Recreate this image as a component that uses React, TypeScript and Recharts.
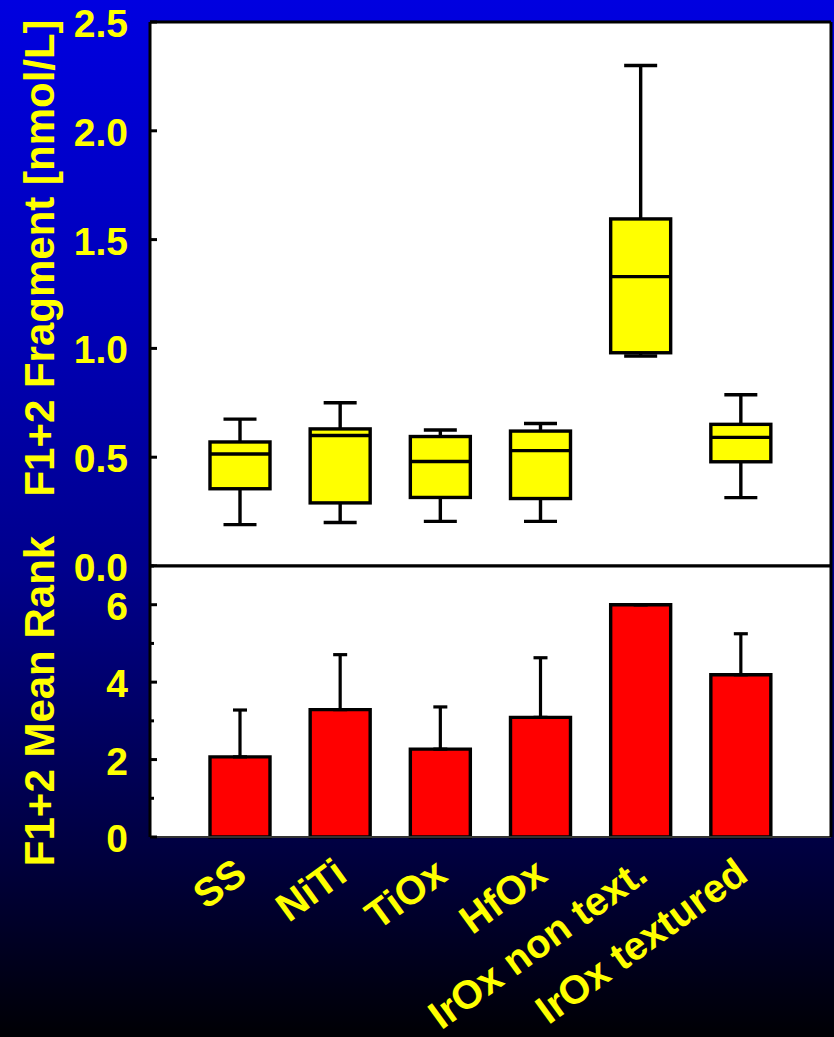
import {
  ComposedChart,
  BarChart,
  Bar,
  ErrorBar,
  XAxis,
  YAxis,
  CartesianGrid,
  ReferenceLine,
} from "recharts";

const categories = ["SS", "NiTi", "TiOx", "HfOx", "IrOx non text.", "IrOx textured"];

// box plot of F1+2 fragment [nmol/L]
const whiskerLow = [0.19, 0.2, 0.205, 0.205, 0.965, 0.314];
const q1 = [0.355, 0.29, 0.315, 0.31, 0.98, 0.479];
const median = [0.515, 0.6, 0.48, 0.53, 1.33, 0.591];
const q3 = [0.57, 0.63, 0.595, 0.62, 1.595, 0.651];
const whiskerHigh = [0.675, 0.75, 0.625, 0.655, 2.3, 0.787];

// mean rank with upper error
const meanRank = [2.07, 3.29, 2.27, 3.09, 6.0, 4.19];
const rankErrUp = [1.21, 1.42, 1.09, 1.54, 0, 1.06];

const fragTicks = [0, 0.5, 1, 1.5, 2, 2.5];
const rankTicks = [0, 1, 2, 3, 4, 5, 6, 7];
const rankLabels = [0, 2, 4, 6];

const YELLOW = "#ffff00";
const FONT = "'Liberation Sans', Arial, sans-serif";

const boxData = categories.map((name, i) => ({
  name,
  lo: whiskerLow[i],
  q1: q1[i],
  med: median[i],
  q3: q3[i],
  hi: whiskerHigh[i],
}));

const rankData = categories.map((name, i) => ({
  name,
  rank: meanRank[i],
  err: [0, rankErrUp[i]],
}));

function BoxShape(props: any) {
  const { x, y, width, height, payload } = props;
  const top = Math.min(y, y + height);
  const h = Math.abs(height);
  const unit = h / (payload.q3 - payload.q1);
  const cx = x + width / 2;
  const yOf = (v: number) => top + (payload.q3 - v) * unit;
  const cap = 16.5;
  return (
    <g stroke="#000" strokeWidth={3.4}>
      <line x1={cx} x2={cx} y1={yOf(payload.hi)} y2={top} />
      <line x1={cx - cap} x2={cx + cap} y1={yOf(payload.hi)} y2={yOf(payload.hi)} />
      <line x1={cx} x2={cx} y1={top + h} y2={yOf(payload.lo)} />
      <line x1={cx - cap} x2={cx + cap} y1={yOf(payload.lo)} y2={yOf(payload.lo)} />
      <rect x={x} y={top} width={width} height={h} fill={YELLOW} />
      <line x1={x} x2={x + width} y1={yOf(payload.med)} y2={yOf(payload.med)} />
    </g>
  );
}

function LeftTick(props: any) {
  const { x, y, payload, fmt, show, len } = props;
  const v = payload.value;
  return (
    <g>
      <line x1={x} x2={x + len(v)} y1={y} y2={y} stroke="#000" strokeWidth={3} />
      {show(v) && (
        <text x={x - 22} y={y + 15} textAnchor="end" fill={YELLOW} fontSize={39}
          fontWeight="bold" fontFamily={FONT}>
          {fmt(v)}
        </text>
      )}
    </g>
  );
}

function RightTick(props: any) {
  const { x, y } = props;
  return <line x1={x} x2={x - 7} y1={y} y2={y} stroke="#000" strokeWidth={3} />;
}

function CatTick(props: any) {
  const { x, y, payload } = props;
  const ax = x + 9;
  const ay = y + 42;
  return (
    <text x={ax} y={ay} textAnchor="end" fill={YELLOW} fontSize={40} fontWeight="bold"
      fontFamily={FONT} transform={`rotate(-36, ${ax}, ${ay})`}>
      {payload.value}
    </text>
  );
}

export default function App() {
  return (
    <div
      style={{
        position: "absolute",
        left: 0,
        top: 0,
        width: 834,
        height: 1037,
        overflow: "hidden",
        background:
          "linear-gradient(to bottom, #0000e0 0%, #0000b8 30%, #00008c 55%, #000040 82%, #000004 100%)",
      }}
    >
      <div style={{ position: "absolute", left: 0, top: 0 }}>
        <ComposedChart width={834} height={600} data={boxData}
          margin={{ top: 22, right: 0, bottom: 34, left: 0 }}>
          <CartesianGrid fill="#fff" horizontal={false} vertical={false} />
          <XAxis dataKey="name" hide padding={{ left: 40, right: 40 }} />
          <YAxis domain={[0, 2.5]} ticks={fragTicks} interval={0} width={150}
            axisLine={{ stroke: "#000", strokeWidth: 3 }} tickLine={false}
            tickSize={0} tickMargin={0}
            tick={(p: any) => (
              <LeftTick {...p} fmt={(v: number) => v.toFixed(1)} show={() => true}
                len={() => 7} />
            )} />
          <YAxis yAxisId="right" orientation="right" domain={[0, 2.5]} ticks={fragTicks}
            interval={0} width={3} axisLine={{ stroke: "#000", strokeWidth: 3 }}
            tickLine={false} tickSize={0} tickMargin={0}
            tick={(p: any) => <RightTick {...p} />} />
          <Bar dataKey={(d: any) => [d.q1, d.q3]} barSize={60} shape={BoxShape}
            isAnimationActive={false} />
          <ReferenceLine y={2.5} stroke="#000" strokeWidth={3} />
          <ReferenceLine y={0} stroke="#000" strokeWidth={3} />
        </ComposedChart>
      </div>

      <div style={{ position: "absolute", left: 0, top: 0 }}>
        <BarChart width={834} height={1037} data={rankData}
          margin={{ top: 566, right: 0, bottom: 0, left: 0 }}>
          <CartesianGrid fill="#fff" horizontal={false} vertical={false} />
          <XAxis dataKey="name" padding={{ left: 40, right: 40 }} height={200}
            interval={0} axisLine={{ stroke: "#333", strokeWidth: 2 }} tickLine={false}
            tickSize={0} tickMargin={0} tick={(p: any) => <CatTick {...p} />} />
          <YAxis domain={[0, 7]} ticks={rankTicks} interval={0} width={150}
            axisLine={{ stroke: "#000", strokeWidth: 3 }} tickLine={false}
            tickSize={0} tickMargin={0}
            tick={(p: any) => (
              <LeftTick {...p} fmt={(v: number) => String(v)}
                show={(v: number) => rankLabels.includes(v)}
                len={(v: number) => (v % 2 === 0 ? 7 : 4)} />
            )} />
          <YAxis yAxisId="right" orientation="right" domain={[0, 7]} ticks={rankTicks}
            interval={0} width={3} axisLine={{ stroke: "#000", strokeWidth: 3 }}
            tickLine={false} tickSize={0} tickMargin={0}
            tick={(p: any) => <RightTick {...p} />} />
          <Bar dataKey="rank" fill="#ff0000" stroke="#000" strokeWidth={3.4} barSize={60}
            isAnimationActive={false}>
            <ErrorBar dataKey="err" direction="y" width={7} stroke="#000" strokeWidth={3.2}
              isAnimationActive={false} />
          </Bar>
          <ReferenceLine y={7} stroke="#000" strokeWidth={3} />
        </BarChart>
      </div>

      <svg width={834} height={1037}
        style={{ position: "absolute", left: 0, top: 0, pointerEvents: "none" }}>
        <text x={54} y={258} textAnchor="middle" fill={YELLOW} fontSize={42}
          fontWeight="bold" fontFamily={FONT} transform="rotate(-90, 54, 258)">
          F1+2 Fragment [nmol/L]
        </text>
        <text x={54} y={701} textAnchor="middle" fill={YELLOW} fontSize={42}
          fontWeight="bold" fontFamily={FONT} transform="rotate(-90, 54, 701)">
          F1+2 Mean Rank
        </text>
      </svg>
    </div>
  );
}
